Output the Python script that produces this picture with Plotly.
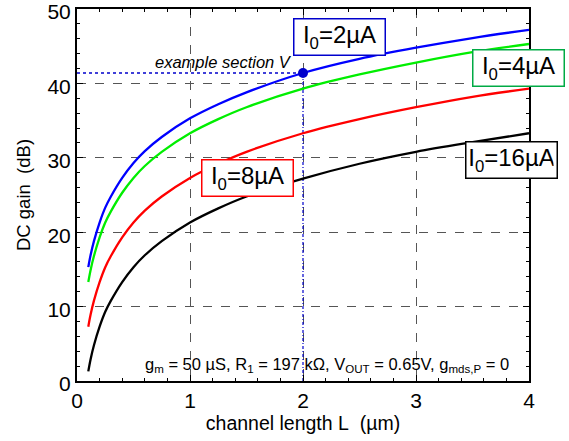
import plotly.graph_objects as go

L = [0.1, 0.12, 0.15, 0.2, 0.25, 0.3, 0.4, 0.5, 0.6, 0.75, 1, 1.25, 1.5, 2, 2.5, 3, 3.5, 4]
gain_2uA = [15.3, 16.9, 18.8, 21.3, 23.3, 24.8, 27.3, 29.3, 30.9, 32.8, 35.3, 37.2, 38.8, 41.4, 43.3, 44.8, 46.1, 47.2]
gain_4uA = [13.3, 14.9, 16.8, 19.3, 21.3, 22.8, 25.3, 27.3, 28.9, 30.8, 33.3, 35.2, 36.8, 39.3, 41.2, 42.8, 44.2, 45.3]
gain_8uA = [7.3, 8.9, 10.8, 13.3, 15.3, 16.8, 19.3, 21.3, 22.9, 24.8, 27.3, 29.2, 30.8, 33.3, 35.2, 36.8, 38.2, 39.3]
gain_16uA = [1.3, 2.9, 4.8, 7.3, 9.3, 10.8, 13.3, 15.3, 16.9, 18.8, 21.3, 23.2, 24.8, 27.2, 29.2, 30.8, 32.1, 33.3]

example_L = 2
example_gain = 41.4

series = [
    ("I0=2µA", gain_2uA, "#0000ff"),
    ("I0=4µA", gain_4uA, "#00ee00"),
    ("I0=8µA", gain_8uA, "#ff0000"),
    ("I0=16µA", gain_16uA, "#000000"),
]

fig = go.Figure()

# example section guide lines
fig.add_trace(go.Scatter(x=[0, example_L], y=[example_gain, example_gain], mode="lines",
                         line=dict(color="#0000cc", width=1.5, dash="dot"), showlegend=False))
fig.add_trace(go.Scatter(x=[example_L, example_L], y=[0, example_gain], mode="lines",
                         line=dict(color="#0000cc", width=1.2, dash="3px,2px,1px,2px"), showlegend=False))

for name, y, c in series:
    fig.add_trace(go.Scatter(x=L, y=y, mode="lines", name=name, line=dict(color=c, width=2.3, shape="spline"),
                             showlegend=False))

fig.add_trace(go.Scatter(x=[example_L], y=[example_gain], mode="markers",
                         marker=dict(color="#0000cc", size=10), showlegend=False))

font = "Liberation Sans, Arial, sans-serif"

axis_common = dict(
    showline=True, linecolor="black", linewidth=2, mirror="ticks",
    ticks="inside", ticklen=6, tickcolor="black", tickwidth=1,
    showgrid=True, gridcolor="#555555", gridwidth=1, griddash="dash",
    zeroline=False, tickfont=dict(size=21, color="black", family=font),
    ticklabeloverflow="allow", automargin=False,
)

fig.update_xaxes(range=[0, 4], dtick=1, **axis_common,
                 minor=dict(dtick=0.2, ticks="inside", ticklen=3, tickcolor="black", showgrid=False),
                 title=dict(text="channel length L&nbsp;&nbsp;(µm)", font=dict(size=19.5, color="black", family=font), standoff=2))
fig.update_yaxes(range=[0, 50], dtick=10, **axis_common, ticklabelshift=3,
                 minor=dict(dtick=2, ticks="inside", ticklen=3, tickcolor="black", showgrid=False),
                 title=dict(text="DC gain&nbsp;&nbsp;(dB)", font=dict(size=18.5, color="black", family=font), standoff=12))

def box(text, x, y, color):
    fig.add_annotation(xref="paper", yref="paper", x=x, y=y, text=text, showarrow=False,
                       font=dict(size=24, color="black", family=font),
                       bgcolor="white", bordercolor=color, borderwidth=1.5, borderpad=3,
                       width=84, height=29, align="center",
                       xanchor="center", yanchor="middle")

# positions in paper coords (plot area x: 77..529, y: 9..381)
def px(xp):
    return (xp - 77) / (529 - 77)

def py(yp):
    return (381 - yp) / (381 - 9)

box("I<sub>0</sub>=2µA", px(339.5), py(37), "#0000cc")
box("I<sub>0</sub>=4µA", px(518), py(68.5), "#00aa44")
box("I<sub>0</sub>=8µA", px(247.5), py(177.5), "#ff0000")
box("I<sub>0</sub>=16µA", px(511), py(159.5), "#000000")

fig.add_annotation(x=0.67, y=example_gain, text="<i>example section V</i>", showarrow=False,
                   xanchor="left", yanchor="bottom", yshift=0,
                   font=dict(size=16.5, color="black", family=font))

fig.add_annotation(xref="paper", yref="paper", x=px(327), y=py(365),
                   text="g<sub>m</sub> = 50 µS, R<sub>1</sub> = 197 kΩ, V<sub>OUT</sub> = 0.65V, g<sub>mds,P</sub> = 0",
                   showarrow=False, xanchor="center", yanchor="middle",
                   font=dict(size=16.5, color="black", family=font))

fig.update_layout(
    width=569, height=441,
    margin=dict(l=77, r=40, t=9, b=60),
    plot_bgcolor="white", paper_bgcolor="white",
    font=dict(family=font, color="black"),
)

fig.write_html("out.html")
